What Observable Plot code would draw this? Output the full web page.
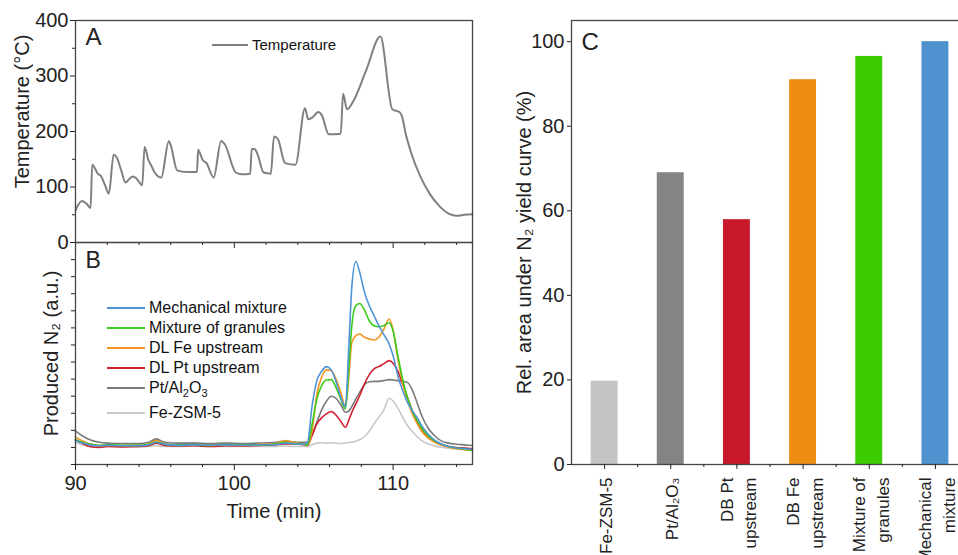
<!DOCTYPE html>
<html><head><meta charset="utf-8">
<script src="https://cdn.jsdelivr.net/npm/d3@7"></script>
<script src="https://cdn.jsdelivr.net/npm/@observablehq/plot@0.6"></script>
<style>
html,body{margin:0;padding:0;background:#fff;overflow:hidden;}
#wrap{position:relative;width:958px;height:555px;overflow:hidden;font-family:"Liberation Sans",Arial,sans-serif;color:#111;background:#fff;}
#wrap svg{position:absolute;}
.legend{position:absolute;font-size:16px;line-height:20px;white-space:nowrap;}
.legend .row{display:flex;align-items:center;height:20px;}
.legend .sw{display:inline-block;width:38px;height:0;border-top:2px solid;margin-right:4px;}
.legend sub{font-size:11px;line-height:0;vertical-align:-4px;}
</style></head><body><div id="wrap"></div>
<script>
// ---------- Panel A: temperature ----------
const tempTime = [90, 90.4, 90.7, 90.95, 91.05, 91.2, 91.4, 91.6, 91.85, 92.1, 92.4, 92.6, 92.9, 93.15, 93.4, 93.6, 93.85, 94.2, 94.35, 94.6, 94.75, 94.95, 95.4, 95.88, 96.0, 96.4, 97.0, 97.65, 97.72, 97.85, 98.0, 98.25, 98.7, 99.17, 99.4, 100.1, 100.5, 101.0, 101.1, 101.3, 101.45, 101.85, 102.3, 102.5, 102.75, 103.2, 103.85, 104.45, 104.65, 104.9, 105.3, 105.5, 105.95, 106.7, 106.85, 107.1, 107.5, 108.3, 109.2, 109.95, 110.4, 110.55, 110.8, 111.1, 111.7, 112.3, 112.9, 113.5, 114.0, 114.5, 115];
const tempValue = [58, 75, 70, 62, 140, 135, 124, 120, 104, 88, 158, 153, 128, 108, 115, 119, 115, 103, 172, 148, 140, 128, 117, 183, 175, 130, 127, 127, 167, 160, 149, 143, 117, 183, 177, 126, 123, 124, 169, 168, 160, 126, 124, 191, 186, 143, 140, 242, 222, 225, 235, 230, 195, 196, 268, 240, 255, 310, 371, 240, 235, 228, 195, 165, 120, 88, 66, 52, 48, 50, 51];
const tempTicks = [0, 100, 200, 300, 400];
const tempMinorTicks = [50, 150, 250, 350];
const timeTicks = [90, 100, 110];
const timeMinorTicks = [92, 94, 96, 98, 102, 104, 106, 108, 112, 114];

// ---------- Panel B: produced N2 ----------
const n2Time = [90, 90.4, 90.9, 91.5, 92, 93, 94, 94.6, 95.1, 95.6, 96.5, 97.5, 98.5, 99.5, 100.5, 101.5, 102.5, 103.2, 103.7, 104.3,
  104.6, 104.9, 105.2, 105.5, 105.8, 106.1, 106.4, 106.7, 107.0, 107.2, 107.4, 107.65, 107.9, 108.2, 108.5, 108.8, 109.1, 109.4, 109.75, 110.0, 110.3, 110.6, 110.9, 111.2, 111.5, 111.8, 112.2, 112.6, 113.0, 113.5, 114, 114.5, 115];
const mechanicalMixture = [1.4, 1.28, 1.15, 1.1, 1.12, 1.1, 1.1, 1.15, 1.3, 1.18, 1.12, 1.15, 1.13, 1.15, 1.13, 1.16, 1.15, 1.25, 1.22, 1.18,
  1.25, 3.45, 4.91, 5.46, 5.73, 5.54, 4.87, 3.94, 3.39, 6.67, 10.4, 11.89, 11.25, 10.08, 9.3, 8.71, 8.13, 7.64, 7.06, 6.37, 5.2, 4.33, 3.65, 3.16, 2.77, 2.28, 1.79, 1.44, 1.21, 1.05, 0.97, 0.92, 0.88];
const mixtureOfGranules = [1.45, 1.32, 1.2, 1.12, 1.15, 1.12, 1.12, 1.18, 1.32, 1.2, 1.15, 1.15, 1.12, 1.16, 1.15, 1.15, 1.18, 1.3, 1.22, 1.2,
  1.15, 2.38, 3.84, 4.62, 4.95, 4.97, 4.52, 3.84, 3.26, 5.5, 8.13, 9.3, 9.43, 9.04, 8.42, 8.13, 8.07, 8.13, 8.3, 7.8, 6.37, 5.01, 3.94, 3.16, 2.61, 2.14, 1.7, 1.4, 1.21, 1.05, 0.97, 0.9, 0.82];
const dlFeUpstream = [1.6, 1.4, 1.2, 1.1, 1.12, 1.1, 1.12, 1.2, 1.42, 1.2, 1.12, 1.15, 1.12, 1.15, 1.12, 1.18, 1.2, 1.4, 1.3, 1.2,
  1.15, 1.99, 4.13, 5.11, 5.54, 5.5, 5.01, 4.23, 3.39, 5.01, 7.15, 7.54, 7.64, 7.45, 7.35, 7.29, 7.45, 7.89, 8.52, 7.88, 6.18, 4.81, 3.78, 3.0, 2.42, 1.95, 1.56, 1.31, 1.15, 1.01, 0.92, 0.86, 0.82];
const dlPtUpstream = [1.45, 1.25, 1.05, 1.0, 1.05, 1.03, 1.05, 1.1, 1.25, 1.12, 1.08, 1.1, 1.05, 1.1, 1.08, 1.12, 1.15, 1.2, 1.2, 1.18,
  1.11, 1.7, 2.38, 2.73, 2.96, 3.1, 2.9, 2.53, 2.18, 2.57, 3.06, 3.55, 4.04, 4.72, 5.26, 5.6, 5.73, 5.89, 6.08, 5.93, 5.46, 4.72, 3.94, 3.16, 2.48, 1.99, 1.6, 1.35, 1.15, 1.05, 0.99, 0.96, 0.92];
const ptAl2O3 = [1.95, 1.7, 1.45, 1.3, 1.25, 1.22, 1.22, 1.3, 1.5, 1.3, 1.25, 1.25, 1.22, 1.25, 1.22, 1.25, 1.28, 1.38, 1.32, 1.3,
  1.31, 1.75, 2.48, 3.2, 3.7, 4.0, 3.88, 3.51, 3.06, 3.12, 3.39, 3.84, 4.23, 4.68, 4.85, 4.87, 4.87, 4.91, 4.97, 4.95, 4.91, 4.87, 4.81, 4.37, 3.65, 2.87, 2.14, 1.7, 1.4, 1.25, 1.19, 1.15, 1.11];
const feZSM5 = [1.3, 1.15, 1.05, 1.02, 1.05, 1.05, 1.03, 1.05, 1.1, 1.05, 1.05, 1.08, 1.05, 1.05, 1.05, 1.05, 1.05, 1.08, 1.05, 1.05,
  1.05, 1.17, 1.25, 1.27, 1.25, 1.27, 1.25, 1.23, 1.25, 1.29, 1.31, 1.36, 1.46, 1.64, 1.95, 2.38, 2.77, 3.16, 3.88, 3.72, 3.3, 2.77, 2.28, 1.95, 1.64, 1.4, 1.21, 1.09, 1.01, 0.96, 0.92, 0.9, 0.86];
const n2Names = ["Mechanical mixture", "Mixture of granules", "DL Fe upstream", "DL Pt upstream", "Pt/Al₂O₃", "Fe-ZSM-5"];
const n2Series = [mechanicalMixture, mixtureOfGranules, dlFeUpstream, dlPtUpstream, ptAl2O3, feZSM5];
const n2Colors = ["#4f94d4", "#3ccc1c", "#f39420", "#d0202e", "#7a7a7a", "#c8c8c8"];
const n2Ticks = [0, 1, 2, 3, 4, 5, 6, 7, 8, 9, 10, 11, 12, 13];

// ---------- Panel C: relative area ----------
const barCategories = ["Fe-ZSM-5", "Pt/Al₂O₃", "DB Pt upstream", "DB Fe upstream", "Mixture of granules", "Mechanical mixture"];
const barLabels = ["Fe-ZSM-5", "Pt/Al₂O₃", "DB Pt\nupstream", "DB Fe\nupstream", "Mixture of\ngranules", "Mechanical\nmixture"];
const barValues = [19.7, 69.0, 57.9, 91.0, 96.5, 100];
const barColors = ["#c4c4c4", "#848484", "#c8192b", "#ef8c12", "#3ccc00", "#5092cf"];
const areaTicks = [0, 20, 40, 60, 80, 100];

// ---------- build ----------
const font = '"Liberation Sans", Arial, Helvetica, sans-serif';
const ink = "#222";
const wrap = document.getElementById("wrap");
const baseStyle = {fontFamily: font, fontSize: "20px", color: ink, background: "transparent", overflow: "visible"};
function place(el, left, top) { el.style.left = left + "px"; el.style.top = top + "px"; wrap.appendChild(el); }

// Panel A
const tempData = tempTime.map((t, i) => ({t, v: tempValue[i]}));
const plotA = Plot.plot({
  width: 480, height: 252, marginLeft: 75, marginRight: 8, marginTop: 20, marginBottom: 10,
  style: baseStyle,
  x: {domain: [90, 115]},
  y: {domain: [0, 400]},
  marks: [
    Plot.line(tempData, {x: "t", y: "v", stroke: "#808080", strokeWidth: 2, curve: "monotone-x"}),
    Plot.frame({stroke: "#444", strokeWidth: 1.3}),
    Plot.axisY({ticks: tempTicks, tickSize: 5, tickPadding: 2, fontSize: 20, label: null}),
    Plot.axisY({ticks: tempMinorTicks, tickSize: 3, fill: "none", label: null}),
    Plot.axisX({ticks: timeTicks, tickSize: 6, fill: "none", label: null}),
    Plot.axisX({ticks: timeMinorTicks, tickSize: 3, fill: "none", label: null}),
    Plot.text(["Temperature (°C)"], {frameAnchor: "left", rotate: -90, textAnchor: "middle", dx: -53, dy: -20, fontSize: 20, fill: ink}),
    Plot.text(["A"], {frameAnchor: "top-left", dx: 10, dy: 7, lineAnchor: "top", textAnchor: "start", fontSize: 24, fill: ink})
  ]
});
place(plotA, 0, 0);

// Temperature legend
const legA = document.createElement("div");
legA.className = "legend";
legA.style.fontSize = "15px";
legA.innerHTML = `<div class="row"><span class="sw" style="border-color:#808080;width:36px"></span><span>Temperature</span></div>`;
place(legA, 212, 35);

// Panel B
const n2Data = [];
[5, 4, 3, 2, 1, 0].forEach(k => n2Time.forEach((t, i) => n2Data.push({t, v: n2Series[k][i], series: n2Names[k]})));
const plotB = Plot.plot({
  width: 480, height: 320, marginLeft: 75, marginRight: 8, marginTop: 10, marginBottom: 88,
  style: baseStyle,
  x: {domain: [90, 115]},
  y: {domain: [0, 13]},
  color: {domain: n2Names, range: n2Colors},
  marks: [
    Plot.line(n2Data, {x: "t", y: "v", z: "series", stroke: "series", strokeWidth: 1.6, curve: "monotone-x"}),
    Plot.frame({stroke: "#444", strokeWidth: 1.3}),
    Plot.axisY({ticks: n2Ticks, tickSize: 4, fill: "none", label: null}),
    Plot.axisX({ticks: timeTicks, tickSize: 6, tickPadding: 5, fontSize: 20, label: null}),
    Plot.axisX({ticks: timeMinorTicks, tickSize: 3, fill: "none", label: null}),
    Plot.text(["Time (min)"], {frameAnchor: "bottom", lineAnchor: "top", dy: 39, fontSize: 20, fill: ink}),
    Plot.text(["Produced N₂ (a.u.)"], {frameAnchor: "left", rotate: -90, textAnchor: "middle", dx: -24, fontSize: 20, fill: ink}),
    Plot.text(["B"], {frameAnchor: "top-left", dx: 10, dy: 9, lineAnchor: "top", textAnchor: "start", fontSize: 23, fill: ink})
  ]
});
place(plotB, 0, 232);

// Legend B
const legB = document.createElement("div");
legB.className = "legend";
legB.innerHTML = n2Names.map((name, i) => {
  const html = name.replace(/₂/g, "<sub>2</sub>").replace(/₃/g, "<sub>3</sub>");
  const extra = name.startsWith("Pt/") ? "margin-bottom:5px;" : "";
  return `<div class="row" style="${extra}"><span class="sw" style="border-color:${n2Colors[i]}"></span><span>${html}</span></div>`;
}).join("");
place(legB, 107, 298);

// Panel C
const barData = barCategories.map((c, i) => ({cat: c, value: barValues[i], label: barLabels[i]}));
const cWidth = 490, cLeft = 91, cRight = 2;
const cStep = (cWidth - cLeft - cRight) / barCategories.length;
const plotC = Plot.plot({
  width: cWidth, height: 555, marginLeft: cLeft, marginRight: cRight, marginTop: 20, marginBottom: 91,
  style: baseStyle,
  x: {domain: barCategories, paddingInner: 0.593, paddingOuter: 0.2965, round: false},
  y: {domain: [0, 105]},
  color: {domain: barCategories, range: barColors},
  marks: [
    Plot.barY(barData, {x: "cat", y: "value", fill: "cat"}),
    Plot.frame({stroke: "#444", strokeWidth: 1.3}),
    Plot.axisY({ticks: areaTicks, tickSize: 4, tickPadding: 3, fontSize: 20, label: null}),
    Plot.axisX({tickSize: 5, fill: "none", label: null}),
    Plot.axisX({tickSize: 3, fill: "none", label: null, dx: cStep / 2}),
    Plot.text(barData, {x: "cat", frameAnchor: "bottom", text: "label", rotate: -90, textAnchor: "end", lineAnchor: "middle", lineHeight: 1.4, dy: 13, fontSize: 17, fill: ink}),
    Plot.text(["Rel. area under N₂ yield curve (%)"], {frameAnchor: "left", rotate: -90, textAnchor: "middle", dx: -47, fontSize: 20, fill: ink}),
    Plot.text(["C"], {frameAnchor: "top-left", dx: 10, dy: 12, lineAnchor: "top", textAnchor: "start", fontSize: 24, fill: ink})
  ]
});
place(plotC, 480, 0);
</script>
</body></html>
